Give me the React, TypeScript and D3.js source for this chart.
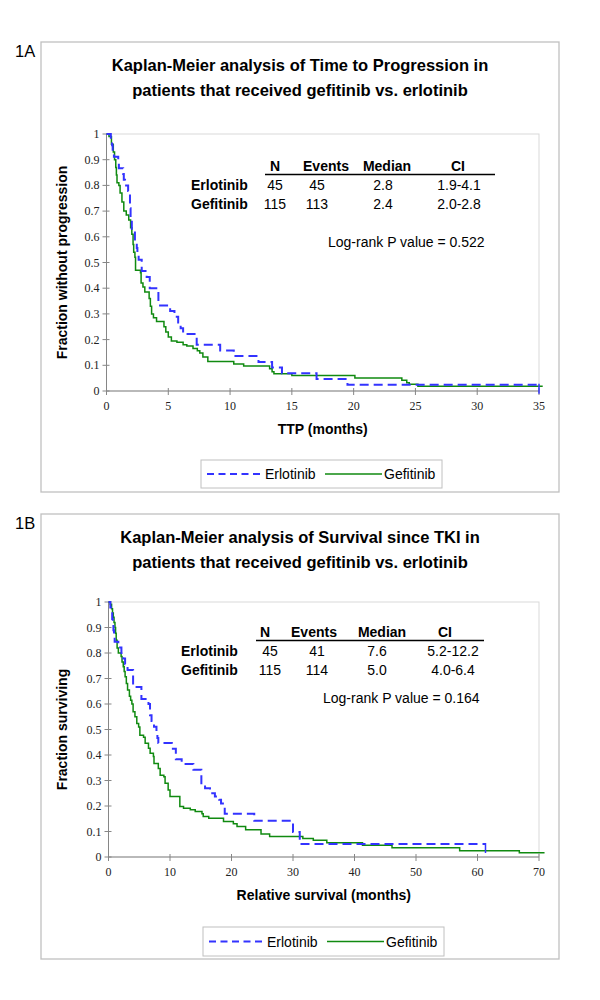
import React from "react";
import * as d3 from "d3";

const SANS = "'Liberation Sans', Arial, Helvetica, sans-serif";
const SERIF = "'Liberation Serif', 'Times New Roman', serif";

// ---------- DATA ----------
const yTickValues = [0, 0.1, 0.2, 0.3, 0.4, 0.5, 0.6, 0.7, 0.8, 0.9, 1];
const ttpTicks = [0, 5, 10, 15, 20, 25, 30, 35];
const osTicks = [0, 10, 20, 30, 40, 50, 60, 70];

// Panel 1A: Time to progression
const ttpErloT = [0.35, 0.45, 0.5, 0.6, 0.95, 1.0, 1.35, 1.4, 1.5, 1.75, 1.9, 1.95, 2.05, 2.3, 2.45, 2.5, 2.6, 2.85, 3.25, 3.5, 4.2, 5.15, 5.5, 5.8, 6.0, 6.2, 7.3, 9.2, 10.3, 12.3, 13.4, 14.2, 17.0, 19.5];
const ttpErloS = [0.978, 0.956, 0.933, 0.911, 0.889, 0.867, 0.844, 0.822, 0.8, 0.778, 0.711, 0.667, 0.622, 0.578, 0.556, 0.533, 0.511, 0.467, 0.444, 0.4, 0.333, 0.311, 0.289, 0.267, 0.244, 0.222, 0.18, 0.158, 0.136, 0.113, 0.091, 0.069, 0.047, 0.024];
const ttpErloEnd = 35.0;
const ttpErloCensor = [35.0];

const ttpGefiT = [0.2, 0.4, 0.55, 0.65, 0.75, 0.8, 0.85, 1.0, 1.1, 1.25, 1.4, 1.6, 1.8, 1.95, 2.05, 2.15, 2.2, 2.3, 2.35, 2.75, 2.8, 2.95, 3.1, 3.45, 3.55, 3.65, 3.8, 4.05, 4.65, 4.8, 5.0, 5.25, 5.7, 6.2, 6.5, 7.0, 7.35, 7.55, 7.8, 8.2, 10.3, 11.1, 13.2, 13.4, 13.55, 15.0, 20.1, 23.9, 24.3, 24.5, 25.2];
const ttpGefiS = [0.99, 0.96, 0.93, 0.9, 0.87, 0.84, 0.81, 0.8, 0.77, 0.735, 0.7, 0.685, 0.665, 0.635, 0.61, 0.57, 0.54, 0.52, 0.47, 0.46, 0.42, 0.405, 0.385, 0.36, 0.33, 0.3, 0.285, 0.27, 0.25, 0.23, 0.21, 0.195, 0.19, 0.18, 0.175, 0.165, 0.157, 0.148, 0.132, 0.115, 0.105, 0.097, 0.087, 0.075, 0.067, 0.06, 0.051, 0.042, 0.032, 0.026, 0.018];
const ttpGefiEnd = 35.3;

// Panel 1B: Survival since TKI
const osErloT = [0.3, 0.4, 0.6, 0.7, 0.8, 0.9, 1.0, 1.6, 2.1, 2.4, 2.7, 3.1, 4.0, 5.35, 6.5, 6.75, 7.0, 7.4, 7.8, 7.95, 8.1, 10.3, 10.95, 11.9, 13.8, 15.1, 15.7, 16.5, 17.3, 18.0, 18.3, 18.6, 18.9, 23.7, 30.0, 31.1];
const osErloS = [0.978, 0.956, 0.933, 0.911, 0.889, 0.867, 0.844, 0.822, 0.8, 0.778, 0.756, 0.733, 0.667, 0.62, 0.6, 0.556, 0.533, 0.511, 0.489, 0.467, 0.447, 0.425, 0.383, 0.365, 0.342, 0.285, 0.27, 0.25, 0.237, 0.225, 0.21, 0.195, 0.17, 0.142, 0.098, 0.051];
const osErloEnd = 61.3;
const osErloCensor = [61.3];

const osGefiT = [0.3, 0.5, 0.65, 0.78, 0.9, 1.05, 1.15, 1.25, 1.4, 1.6, 2.05, 2.2, 2.4, 2.55, 2.7, 2.9, 3.1, 3.4, 3.6, 3.8, 4.0, 4.3, 4.6, 4.9, 5.1, 5.7, 5.96, 6.5, 6.77, 7.3, 7.4, 8.1, 8.4, 9.0, 9.2, 9.7, 10.0, 11.6, 12.2, 13.3, 14.1, 15.2, 15.4, 16.3, 18.7, 20.3, 20.9, 22.3, 24.8, 26.2, 31.6, 33.3, 35.5, 41.3, 46.1, 57.1, 66.8];
const osGefiS = [0.991, 0.974, 0.957, 0.94, 0.92, 0.9, 0.877, 0.85, 0.82, 0.8, 0.786, 0.765, 0.746, 0.727, 0.707, 0.68, 0.655, 0.63, 0.615, 0.6, 0.57, 0.55, 0.524, 0.51, 0.477, 0.47, 0.446, 0.426, 0.407, 0.394, 0.367, 0.347, 0.321, 0.315, 0.289, 0.263, 0.237, 0.198, 0.191, 0.185, 0.178, 0.17, 0.159, 0.152, 0.139, 0.13, 0.12, 0.107, 0.09, 0.08, 0.073, 0.066, 0.056, 0.046, 0.036, 0.025, 0.017];
const osGefiEnd = 70.9;

const tableHeaders = ["N", "Events", "Median", "CI"];
const tableRowNames = ["Erlotinib", "Gefitinib"];
const ttpTable = [
  ["45", "45", "2.8", "1.9-4.1"],
  ["115", "113", "2.4", "2.0-2.8"],
];
const osTable = [
  ["45", "41", "7.6", "5.2-12.2"],
  ["115", "114", "5.0", "4.0-6.4"],
];
const ttpPValue = "Log-rank P value = 0.522";
const osPValue = "Log-rank P value = 0.164";
const legendNames = ["Erlotinib", "Gefitinib"];

// ---------- STYLE ----------
const BLUE = "#3333ff";
const GREEN = "#108a10";
const AXIS = "#868686";
const BOX = "#c0c0c0";
const PLOTBOX = "#d9d9d9";

type Series = { t: number[]; s: number[]; end: number; censor?: number[]; color: string; dash?: string; width: number };

type PanelProps = {
  tag: string;
  boxTop: number;
  boxBottom: number;
  titleLines: string[];
  plot: { x0: number; x1: number; y0: number; y1: number };
  xMax: number;
  xTicks: number[];
  xTitle: string;
  yTitle: string;
  series: Series[];
  table: string[][];
  pValue: string;
  tablePos: { headerX: number[]; valueX: number[]; nameX: number; lineX0: number; lineX1: number; headerY: number; rowY: number[]; pX: number; pY: number };
  legend: { x0: number; x1: number; y0: number; y1: number };
};

function Panel(p: PanelProps) {
  const x = d3.scaleLinear().domain([0, p.xMax]).range([p.plot.x0, p.plot.x1]);
  const y = d3.scaleLinear().domain([0, 1]).range([p.plot.y1, p.plot.y0]);
  const line = d3
    .line<[number, number]>()
    .x((d) => x(d[0]))
    .y((d) => y(d[1]))
    .curve(d3.curveStepAfter);
  const cx = (p.plot.x0 + p.plot.x1) / 2;
  const cy = (p.plot.y0 + p.plot.y1) / 2;
  const titleY0 = p.boxTop + 29;
  const legMid = (p.legend.y0 + p.legend.y1) / 2;
  const fmt = (v: number) => (v === 0 || v === 1 ? String(v) : v.toFixed(1));
  return (
    <g>
      <text x={15} y={p.boxTop + 15} fontFamily={SANS} fontSize={16.5} fill="#000">
        {p.tag}
      </text>
      <rect x={41} y={p.boxTop} width={518} height={p.boxBottom - p.boxTop} fill="#fff" stroke={BOX} strokeWidth={1.3} />
      {p.titleLines.map((l, i) => (
        <text key={i} x={300} y={titleY0 + i * 24.5} textAnchor="middle" fontFamily={SANS} fontWeight="bold" fontSize={16.5} fill="#000">
          {l}
        </text>
      ))}
      {/* plot area border */}
      <rect x={p.plot.x0} y={p.plot.y0} width={p.plot.x1 - p.plot.x0} height={p.plot.y1 - p.plot.y0} fill="none" stroke={PLOTBOX} strokeWidth={1} />
      {/* axes */}
      <line x1={p.plot.x0} x2={p.plot.x0} y1={p.plot.y0} y2={p.plot.y1} stroke={AXIS} strokeWidth={1} />
      <line x1={p.plot.x0} x2={p.plot.x1} y1={p.plot.y1} y2={p.plot.y1} stroke={AXIS} strokeWidth={1} />
      {yTickValues.map((v) => (
        <g key={"y" + v}>
          <line x1={p.plot.x0 - 4} x2={p.plot.x0 + 3} y1={y(v)} y2={y(v)} stroke={AXIS} strokeWidth={1} />
          <text x={p.plot.x0 - 7} y={y(v) + 4} textAnchor="end" fontFamily={SERIF} fontSize={12} fill="#222">
            {fmt(v)}
          </text>
        </g>
      ))}
      {p.xTicks.map((v) => (
        <g key={"x" + v}>
          <line x1={x(v)} x2={x(v)} y1={p.plot.y1 - 3} y2={p.plot.y1 + 4} stroke={AXIS} strokeWidth={1} />
          <text x={x(v)} y={p.plot.y1 + 19} textAnchor="middle" fontFamily={SERIF} fontSize={12} fill="#222">
            {v}
          </text>
        </g>
      ))}
      <text x={cx} y={p.plot.y1 + 43} textAnchor="middle" fontFamily={SANS} fontWeight="bold" fontSize={14} fill="#000">
        {p.xTitle}
      </text>
      <text transform={`translate(67,${cy}) rotate(-90)`} textAnchor="middle" fontFamily={SANS} fontWeight="bold" fontSize={14} fill="#000">
        {p.yTitle}
      </text>
      {/* curves */}
      {p.series.map((s, i) => {
        const pts: [number, number][] = [[0, 1], ...s.t.map((t, j) => [t, s.s[j]] as [number, number]), [s.end, s.s[s.s.length - 1]]];
        return (
          <g key={"s" + i}>
            <path d={line(pts) || ""} fill="none" stroke={s.color} strokeWidth={s.width} strokeDasharray={s.dash} />
            {(s.censor || []).map((c, k) => (
              <line key={k} x1={x(c)} x2={x(c)} y1={y(s.s[s.s.length - 1]) - 1} y2={y(s.s[s.s.length - 1]) + 9} stroke={s.color} strokeWidth={1.5} />
            ))}
          </g>
        );
      })}
      {/* table */}
      {tableHeaders.map((h, i) => (
        <text key={"h" + i} x={p.tablePos.headerX[i]} y={p.tablePos.headerY} textAnchor="middle" fontFamily={SANS} fontWeight="bold" fontSize={14} fill="#000">
          {h}
        </text>
      ))}
      <line x1={p.tablePos.lineX0} x2={p.tablePos.lineX1} y1={p.tablePos.headerY + 3.5} y2={p.tablePos.headerY + 3.5} stroke="#000" strokeWidth={1.5} />
      {p.table.map((row, r) => (
        <g key={"r" + r}>
          <text x={p.tablePos.nameX} y={p.tablePos.rowY[r]} fontFamily={SANS} fontWeight="bold" fontSize={14} fill="#000">
            {tableRowNames[r]}
          </text>
          {row.map((c, k) => (
            <text key={k} x={p.tablePos.valueX[k]} y={p.tablePos.rowY[r]} textAnchor="middle" fontFamily={SANS} fontSize={14} fill="#000">
              {c}
            </text>
          ))}
        </g>
      ))}
      <text x={p.tablePos.pX} y={p.tablePos.pY} fontFamily={SANS} fontSize={14} fill="#000">
        {p.pValue}
      </text>
      {/* legend */}
      <rect x={p.legend.x0} y={p.legend.y0} width={p.legend.x1 - p.legend.x0} height={p.legend.y1 - p.legend.y0} fill="#fff" stroke={BOX} strokeWidth={1} />
      <line x1={p.legend.x0 + 6} x2={p.legend.x0 + 62} y1={legMid} y2={legMid} stroke={BLUE} strokeWidth={2} strokeDasharray="7,4.5" />
      <text x={p.legend.x0 + 64} y={legMid + 5} fontFamily={SANS} fontSize={14} fill="#000">
        {legendNames[0]}
      </text>
      <line x1={p.legend.x0 + 124} x2={p.legend.x0 + 181} y1={legMid} y2={legMid} stroke={GREEN} strokeWidth={1.5} />
      <text x={p.legend.x0 + 183} y={legMid + 5} fontFamily={SANS} fontSize={14} fill="#000">
        {legendNames[1]}
      </text>
    </g>
  );
}

export default function App() {
  const ttpSeries: Series[] = [
    { t: ttpGefiT, s: ttpGefiS, end: ttpGefiEnd, color: GREEN, width: 1.5 },
    { t: ttpErloT, s: ttpErloS, end: ttpErloEnd, censor: ttpErloCensor, color: BLUE, dash: "9,5", width: 2 },
  ];
  const osSeries: Series[] = [
    { t: osGefiT, s: osGefiS, end: osGefiEnd, color: GREEN, width: 1.5 },
    { t: osErloT, s: osErloS, end: osErloEnd, censor: osErloCensor, color: BLUE, dash: "9,5", width: 2 },
  ];
  return (
    <svg width={600} height={1000} viewBox="0 0 600 1000" style={{ position: "absolute", left: 0, top: 0, background: "#fff" }}>
      <rect x={0} y={0} width={600} height={1000} fill="#fff" />
      <Panel
        tag="1A"
        boxTop={42}
        boxBottom={492}
        titleLines={["Kaplan-Meier analysis of Time to Progression in", "patients that received gefitinib vs. erlotinib"]}
        plot={{ x0: 106.5, x1: 539, y0: 134, y1: 391 }}
        xMax={35}
        xTicks={ttpTicks}
        xTitle="TTP (months)"
        yTitle="Fraction without progression"
        series={ttpSeries}
        table={ttpTable}
        pValue={ttpPValue}
        tablePos={{ headerX: [275, 326, 387, 458], valueX: [275, 317, 383, 459], nameX: 191, lineX0: 265, lineX1: 495, headerY: 171, rowY: [190, 209], pX: 328, pY: 247 }}
        legend={{ x0: 201, x1: 442, y0: 460, y1: 488 }}
      />
      <Panel
        tag="1B"
        boxTop={514}
        boxBottom={959}
        titleLines={["Kaplan-Meier analysis of Survival since TKI in", "patients that received gefitinib vs. erlotinib"]}
        plot={{ x0: 108.5, x1: 539, y0: 602, y1: 857 }}
        xMax={70}
        xTicks={osTicks}
        xTitle="Relative survival (months)"
        yTitle="Fraction surviving"
        series={osSeries}
        table={osTable}
        pValue={osPValue}
        tablePos={{ headerX: [265, 314, 382, 445], valueX: [270, 317, 377, 453], nameX: 181, lineX0: 256, lineX1: 484, headerY: 637, rowY: [656, 675], pX: 323, pY: 703 }}
        legend={{ x0: 203, x1: 444, y0: 927, y1: 956 }}
      />
    </svg>
  );
}
